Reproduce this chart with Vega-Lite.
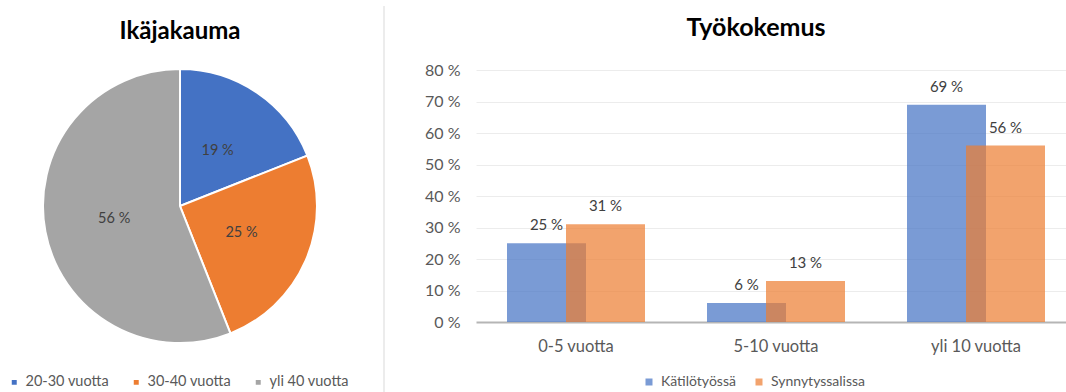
{
  "$schema": "https://vega.github.io/schema/vega-lite/v6.json",
  "padding": {"left": 0, "top": 5, "right": 0, "bottom": 0},
  "background": "white",
  "spacing": 24,
  "bounds": "flush",
  "config": {"font": "Lato", "view": {"stroke": null}},
  "resolve": {"scale": {"color": "independent"}, "legend": {"color": "independent"}},
  "hconcat": [
    {
      "width": 360,
      "height": 272,
      "title": {"text": "Ikäjakauma", "fontSize": 24, "fontWeight": "bold", "color": "#000000", "offset": 21, "anchor": "middle"},
      "data": {"values": [
        {"ika": "20-30 vuotta", "osuus": 19, "label": "19 %", "jarj": 1},
        {"ika": "30-40 vuotta", "osuus": 25, "label": "25 %", "jarj": 2},
        {"ika": "yli 40 vuotta", "osuus": 56, "label": "56 %", "jarj": 3}
      ]},
      "encoding": {
        "theta": {"field": "osuus", "type": "quantitative", "stack": true},
        "order": {"field": "jarj", "type": "quantitative"}
      },
      "layer": [
        {
          "mark": {"type": "arc", "outerRadius": 137, "stroke": "white", "strokeWidth": 2},
          "encoding": {
            "color": {
              "field": "ika", "type": "nominal",
              "scale": {"domain": ["20-30 vuotta", "30-40 vuotta", "yli 40 vuotta"], "range": ["#4472C4", "#ED7D31", "#A5A5A5"]},
              "legend": {"orient": "none", "direction": "horizontal", "legendX": 7, "legendY": 305, "title": null, "symbolType": "square", "symbolSize": 42, "labelFontSize": 14.5, "labelColor": "#595959", "columnPadding": 19, "labelOffset": 4}
            }
          }
        },
        {
          "mark": {"type": "text", "radius": 67, "fontSize": 14.5, "color": "#404040"},
          "encoding": {"text": {"field": "label", "type": "nominal"}}
        }
      ]
    },
    {
      "width": 68,
      "height": 323,
      "data": {"values": [{"x": 0, "yla": 1.198, "ala": 0.003}]},
      "mark": {"type": "rule", "color": "#d9d9d9", "strokeWidth": 1, "clip": false},
      "encoding": {
        "x": {"field": "x", "type": "quantitative", "axis": null, "scale": {"domain": [0, 1]}},
        "y": {"field": "yla", "type": "quantitative", "axis": null, "scale": {"domain": [0, 1], "nice": false, "zero": false}},
        "y2": {"field": "ala"}
      }
    },
    {
      "width": 590,
      "height": 252,
      "title": {"text": "Työkokemus", "fontSize": 25, "fontWeight": "bold", "color": "#000000", "offset": 21, "anchor": "middle", "dx": -15},
      "data": {"values": [
        {"kokemus": "0-5 vuotta", "sarja": "Kätilötyössä", "pct": 25, "label": "25 %"},
        {"kokemus": "5-10 vuotta", "sarja": "Kätilötyössä", "pct": 6, "label": "6 %"},
        {"kokemus": "yli 10 vuotta", "sarja": "Kätilötyössä", "pct": 69, "label": "69 %"},
        {"kokemus": "0-5 vuotta", "sarja": "Synnytyssalissa", "pct": 31, "label": "31 %"},
        {"kokemus": "5-10 vuotta", "sarja": "Synnytyssalissa", "pct": 13, "label": "13 %"},
        {"kokemus": "yli 10 vuotta", "sarja": "Synnytyssalissa", "pct": 56, "label": "56 %"}
      ]},
      "encoding": {
        "x": {
          "field": "kokemus", "type": "nominal", "sort": null,
          "scale": {"range": [0, 600], "paddingInner": 0.41, "paddingOuter": 0.205},
          "axis": {"title": null, "domain": false, "ticks": false, "labelAngle": 0, "labelFontSize": 16.5, "labelColor": "#595959", "labelPadding": 16, "grid": false}
        },
        "xOffset": {"field": "sarja", "type": "nominal", "sort": null, "scale": {"paddingInner": 0, "paddingOuter": 0}},
        "y": {
          "field": "pct", "type": "quantitative",
          "scale": {"domain": [0, 80], "nice": false},
          "axis": {
            "title": null, "values": [0, 10, 20, 30, 40, 50, 60, 70, 80],
            "labelExpr": "datum.value + ' %'", "domain": false, "ticks": false,
            "labelFontSize": 16, "labelColor": "#595959", "labelPadding": 16,
            "gridColor": {"condition": {"test": "datum.value === 0", "value": "#b5b5b5"}, "value": "#ececec"},
            "gridWidth": {"condition": {"test": "datum.value === 0", "value": 2}, "value": 1}
          }
        }
      },
      "layer": [
        {
          "mark": {"type": "bar", "width": 79, "opacity": 0.71},
          "encoding": {
            "color": {
              "field": "sarja", "type": "nominal",
              "scale": {"domain": ["Kätilötyössä", "Synnytyssalissa"], "range": ["#4472C4", "#ED7D31"]},
              "legend": {"orient": "none", "direction": "horizontal", "legendX": 166, "legendY": 305, "title": null, "symbolType": "square", "symbolSize": 49, "symbolOpacity": 0.71, "labelFontSize": 14, "labelColor": "#595959", "columnPadding": 16, "labelOffset": 5}
            }
          }
        },
        {
          "mark": {"type": "text", "fontSize": 15, "color": "#404040", "baseline": "middle", "dy": -18},
          "encoding": {"text": {"field": "label", "type": "nominal"}}
        }
      ]
    }
  ]
}
